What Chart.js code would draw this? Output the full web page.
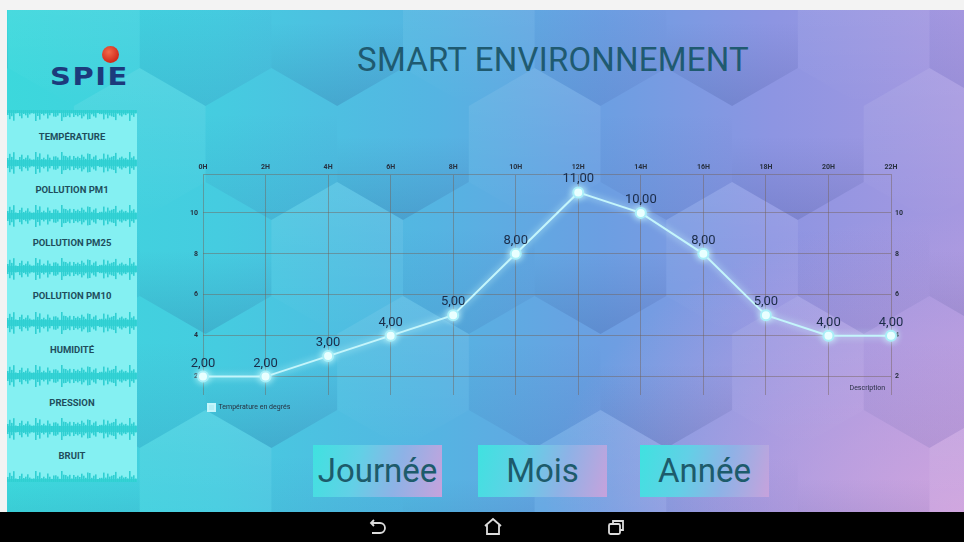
<!DOCTYPE html>
<html>
<head>
<meta charset="utf-8">
<script src="https://cdn.jsdelivr.net/npm/chart.js@4/dist/chart.umd.min.js"></script>
<style>
  html, body { margin: 0; padding: 0; width: 964px; height: 542px; overflow: hidden; background: #f3f3f3; font-family: Roboto, sans-serif; }
  #screen {
    position: absolute; left: 7px; top: 10px; width: 957px; height: 502px; overflow: hidden;
    background:
      radial-gradient(ellipse 420px 300px at 100% 100%, rgba(214,166,222,0.85), rgba(214,166,222,0) 100%),
      linear-gradient(90deg, #3cd8dc 0%, #45cce0 22%, #55b4e2 45%, #6b9fe2 62%, #8d95e2 80%, #a698e0 100%);
  }
  #hex { position: absolute; left: 0; top: 0; }
  .abs { position: absolute; }
  #logo { left: 50px; top: 44px; width: 100px; height: 44px; }
  #logo .txt { position: absolute; left: 0; top: 13px; font-family: "DejaVu Sans", sans-serif; font-weight: bold; font-size: 29px; letter-spacing: 1.5px; color: #1c3a7c; transform: scaleY(0.85); transform-origin: 0 100%; }
  #logo .ball { position: absolute; left: 52px; top: 2px; width: 17px; height: 17px; border-radius: 50%; background: radial-gradient(circle at 40% 35%, #f36a4a, #d22a1a 70%); }
  #title { left: 300px; width: 506px; top: 40px; text-align: center; font-size: 33px; color: #1f5a70; letter-spacing: 0.2px; }
  #menu { left: 7px; top: 110px; width: 130px; height: 372px; overflow: hidden; background: #84f0f2; }
  .item { position: absolute; left: 0; width: 130px; height: 53px; line-height: 53px; text-align: center; font-size: 9.5px; font-weight: bold; color: #1f4d5c; z-index: 2; }
  .wave { position: absolute; left: 0; width: 130px; height: 22px; z-index: 1; }
  .btn { position: absolute; top: 445px; width: 129px; height: 52px; line-height: 52px; text-align: center; font-size: 33px; color: #1d5b6b;
    background: linear-gradient(105deg, #3fe2e0 0%, #62d0e6 35%, #8eb2e6 65%, #c7a2dc 100%); }
  #nav { position: absolute; left: 0; top: 512px; width: 964px; height: 30px; background: #000; }
  #chartBox { position: absolute; left: 150px; top: 140px; width: 780px; height: 290px; }
</style>
</head>
<body>
<div id="screen">
  <svg id="hex" width="957" height="502" viewBox="7 10 957 502"></svg>
</div>
<div id="logo" class="abs"><div class="ball"></div><div class="txt">SPIE</div></div>
<div id="title" class="abs">SMART ENVIRONNEMENT</div>
<div id="menu" class="abs"></div>
<div id="buttons"></div>
<div id="chartBox"><canvas id="chart" width="780" height="290"></canvas></div>
<div id="nav">
  <svg width="964" height="30">
    <g fill="none" stroke="#dcdcdc" stroke-width="1.8">
      <path d="M371 11 h9 a5 5 0 0 1 0 10 h-8"/>
      <path d="M374 8 l-3 3 l3 3"/>
      <path d="M485 14 l8 -7 l8 7 M487 13 v9 h12 v-9"/>
      <rect x="609" y="12" width="11" height="10" rx="1.5"/>
      <path d="M613 12 v-3 h10 v9 h-3"/>
    </g>
  </svg>
</div>

<script>
const hours = ['0H', '2H', '4H', '6H', '8H', '10H', '12H', '14H', '16H', '18H', '20H', '22H'];
const temperatures = [2, 2, 3, 4, 5, 8, 11, 10, 8, 5, 4, 4];
const yTicks = [2, 4, 6, 8, 10];
const seriesName = 'Température en degrés';
const descriptionText = 'Description';
const menuItems = ['TEMPÉRATURE', 'POLLUTION PM1', 'POLLUTION PM25', 'POLLUTION PM10', 'HUMIDITÉ', 'PRESSION', 'BRUIT'];
const periodButtons = ['Journée', 'Mois', 'Année'];

// hexagon backdrop
const svg = document.getElementById('hex');
const NS = 'http://www.w3.org/2000/svg';
svg.innerHTML =
  '<defs>' +
  '<linearGradient id="h0" x1="0" y1="0" x2="0" y2="1"><stop offset="0.45" stop-color="#1a2a70" stop-opacity="0"/><stop offset="1" stop-color="#1a2a70" stop-opacity="0.16"/></linearGradient>' +
  '<linearGradient id="h1" x1="0" y1="0" x2="0" y2="1"><stop offset="0" stop-color="#ffffff" stop-opacity="0.10"/><stop offset="1" stop-color="#ffffff" stop-opacity="0"/></linearGradient>' +
  '<linearGradient id="h2" x1="0" y1="0" x2="0" y2="1"><stop offset="0.3" stop-color="#203080" stop-opacity="0"/><stop offset="1" stop-color="#203080" stop-opacity="0.10"/></linearGradient>' +
  '</defs>';
const R = 76, W = R * Math.sqrt(3);
for (let r = -2; r <= 4; r++) {
  const cy = 144 + r * 114;
  const off = (r % 2 !== 0) ? W / 2 : 0;
  for (let k = -4; k <= 5; k++) {
    const cx = 403 + off + k * W;
    const pts = [];
    for (let i = 0; i < 6; i++) {
      const a = Math.PI / 180 * (60 * i - 90);
      pts.push((cx + R * Math.cos(a)).toFixed(1) + ',' + (cy + R * Math.sin(a)).toFixed(1));
    }
    const p = document.createElementNS(NS, 'polygon');
    p.setAttribute('points', pts.join(' '));
    p.setAttribute('fill', 'url(#h' + (((r * 2 + k) % 3) + 3) % 3 + ')');
    svg.appendChild(p);
  }
}

// side menu with waveform strips
function waveSvg() {
  let bars = '';
  for (let x = 0; x < 130; x += 2) {
    const h = 3 + Math.abs(Math.sin(x * 0.37) * 4 + Math.sin(x * 1.3) * 3 + Math.cos(x * 0.11) * 2);
    bars += '<rect x="' + x + '" y="' + (11 - h).toFixed(1) + '" width="1.6" height="' + (2 * h).toFixed(1) + '" fill="#2fcfd2"/>';
  }
  return '<svg width="130" height="22">' +
    '<rect x="0" y="8" width="130" height="6" fill="#3ed8da"/>' + bars + '</svg>';
}
const menu = document.getElementById('menu');
const itemH = 372 / menuItems.length;
menuItems.forEach((name, i) => {
  const d = document.createElement('div');
  d.className = 'item';
  d.style.top = (i * itemH) + 'px';
  d.textContent = name;
  menu.appendChild(d);
});
for (let i = 0; i <= menuItems.length; i++) {
  const w = document.createElement('div');
  w.className = 'wave';
  w.style.top = (i * itemH - 11) + 'px';
  w.innerHTML = waveSvg();
  menu.appendChild(w);
}

// period buttons
const btnLeft = [313, 478, 640];
periodButtons.forEach((name, i) => {
  const b = document.createElement('div');
  b.className = 'btn';
  b.style.left = btnLeft[i] + 'px';
  b.textContent = name;
  document.body.appendChild(b);
});

const tickFont = { family: 'Roboto', size: 7, weight: 'bold' };
const tickColor = '#27303f';
const gridColor = 'rgba(115, 95, 85, 0.45)';

const moveLegend = {
  id: 'moveLegend',
  afterLayout(chart) {
    const lg = chart.legend;
    const newLeft = chart.chartArea.left - 4;
    lg.width = lg.right - newLeft;
    lg.left = newLeft;
  }
};

const valueLabels = {
  id: 'valueLabels',
  afterDatasetsDraw(chart) {
    const ctx = chart.ctx;
    const meta = chart.getDatasetMeta(0);
    ctx.save();
    ctx.font = '13px Roboto';
    ctx.fillStyle = '#1b2c48';
    ctx.textAlign = 'center';
    ctx.textBaseline = 'alphabetic';
    meta.data.forEach((pt, i) => {
      const txt = temperatures[i].toFixed(2).replace('.', ',');
      ctx.fillText(txt, pt.x, pt.y - 10);
    });
    ctx.restore();
  },
  beforeDatasetDraw(chart) {
    chart.ctx.save();
    chart.ctx.shadowColor = 'rgba(210, 255, 255, 0.95)';
    chart.ctx.shadowBlur = 7;
  },
  afterDatasetDraw(chart) {
    chart.ctx.restore();
  },
  afterDraw(chart) {
    const ctx = chart.ctx;
    const a = chart.chartArea;
    ctx.save();
    ctx.font = '7px Roboto';
    ctx.fillStyle = '#2a2f44';
    ctx.textAlign = 'right';
    ctx.fillText(descriptionText, a.right - 6, a.bottom - 7);
    ctx.restore();
  }
};

new Chart(document.getElementById('chart').getContext('2d'), {
  type: 'line',
  data: {
    labels: hours,
    datasets: [{
      label: seriesName,
      data: temperatures,
      borderColor: '#c4f5fb',
      backgroundColor: '#b4eef6',
      borderWidth: 2,
      pointRadius: 5,
      pointBorderWidth: 2,
      pointBackgroundColor: '#f2ffff',
      pointBorderColor: '#a9eff8',
      tension: 0,
      clip: false,
      yAxisID: 'y'
    }]
  },
  options: {
    responsive: false,
    animation: false,
    layout: { padding: { bottom: 9 } },
    plugins: {
      tooltip: { enabled: false },
      legend: {
        position: 'bottom',
        align: 'start',
        labels: { boxWidth: 7, boxHeight: 7, padding: 9, color: tickColor, font: { family: 'Roboto', size: 7 } }
      }
    },
    scales: {
      x: {
        type: 'category',
        position: 'top',
        offset: false,
        grid: { color: gridColor, drawTicks: false },
        border: { display: true, color: gridColor },
        ticks: { color: tickColor, font: tickFont, padding: 3, maxRotation: 0, autoSkip: false },
        afterFit: s => { s.height = 34; }
      },
      y: {
        position: 'left',
        min: 1.1,
        max: 11.9,
        afterBuildTicks: s => { s.ticks = yTicks.map(v => ({ value: v })); },
        grid: { color: gridColor, drawTicks: false },
        border: { display: false },
        ticks: { color: tickColor, font: tickFont, padding: 5 },
        afterFit: s => { s.width = 53; }
      },
      y2: {
        position: 'right',
        min: 1.1,
        max: 11.9,
        afterBuildTicks: s => { s.ticks = yTicks.map(v => ({ value: v })); },
        grid: { display: false, drawTicks: false },
        border: { display: false },
        ticks: { color: tickColor, font: tickFont, padding: 4 },
        afterFit: s => { s.width = 39; }
      }
    }
  },
  plugins: [moveLegend, valueLabels]
});
</script>
</body>
</html>
